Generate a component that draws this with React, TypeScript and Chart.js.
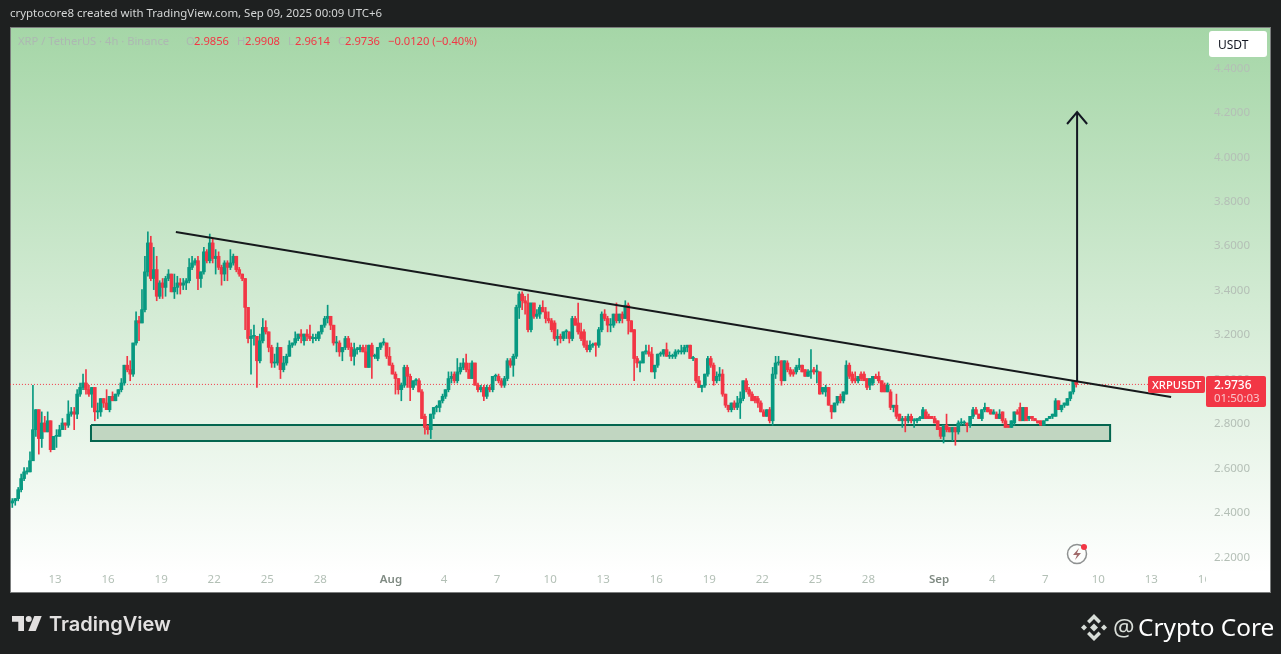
import { useEffect, useRef } from "react";
import { Chart, registerables } from "chart.js";

Chart.register(...registerables);

const UP = "#089981";
const DOWN = "#F23645";
const FONT = '"Noto Sans", sans-serif';

// 4h candles, first one is Jul 10 evening
const opens = [
  2.44,2.45,2.46,2.50,2.55,2.58,2.58,2.63,2.77,2.86,
  2.73,2.80,2.76,2.81,2.68,2.74,2.74,2.77,2.80,2.79,
  2.84,2.85,2.84,2.93,2.96,2.98,2.95,2.93,2.96,2.85,
  2.85,2.91,2.89,2.86,2.92,2.90,2.93,2.95,2.98,3.06,
  3.04,3.02,3.16,3.26,3.25,3.31,3.48,3.61,3.45,3.49,
  3.37,3.43,3.41,3.45,3.47,3.39,3.41,3.43,3.42,3.43,
  3.44,3.50,3.52,3.53,3.45,3.48,3.57,3.53,3.61,3.54,
  3.55,3.50,3.47,3.52,3.50,3.52,3.55,3.49,3.47,3.45,
  3.32,3.18,3.19,3.19,3.08,3.17,3.23,3.21,3.14,3.07,
  3.07,3.14,3.04,3.07,3.10,3.15,3.16,3.18,3.20,3.17,
  3.20,3.19,3.18,3.18,3.18,3.21,3.24,3.27,3.28,3.24,
  3.16,3.16,3.12,3.14,3.18,3.14,3.10,3.13,3.13,3.14,
  3.12,3.05,3.15,3.10,3.09,3.14,3.16,3.16,3.10,3.06,
  3.02,3.00,2.95,2.97,3.05,3.01,2.96,2.99,2.99,2.94,
  2.83,2.78,2.77,2.84,2.87,2.87,2.90,2.92,2.95,3.00,
  3.02,2.99,3.03,3.05,3.07,3.04,3.00,3.07,2.97,2.95,
  2.96,2.92,2.96,2.95,3.01,3.01,2.99,2.97,3.00,3.08,
  3.06,3.10,3.32,3.38,3.35,3.34,3.22,3.34,3.28,3.29,
  3.32,3.30,3.27,3.26,3.25,3.18,3.19,3.18,3.21,3.21,
  3.18,3.27,3.25,3.21,3.21,3.15,3.13,3.15,3.16,3.15,
  3.22,3.29,3.27,3.24,3.24,3.29,3.26,3.29,3.27,3.33,
  3.26,3.22,3.09,3.07,3.07,3.12,3.12,3.11,3.03,3.06,
  3.11,3.11,3.13,3.10,3.10,3.10,3.12,3.12,3.12,3.14,
  3.15,3.09,3.09,2.99,2.96,2.97,3.02,3.09,3.06,2.99,
  3.01,3.02,2.93,2.88,2.86,2.89,2.87,2.89,2.91,2.99,
  2.95,2.93,2.92,2.91,2.89,2.85,2.83,2.86,2.81,3.02,
  3.07,3.08,2.99,3.07,3.04,3.03,3.03,3.05,3.06,3.04,
  3.01,3.03,3.04,3.03,3.03,2.94,2.94,2.96,2.88,2.85,
  2.89,2.92,2.90,2.93,3.06,3.02,3.00,2.99,3.02,3.02,
  3.00,2.97,2.98,3.01,3.01,2.99,2.97,2.94,2.94,2.87,
  2.88,2.84,2.81,2.82,2.81,2.83,2.81,2.81,2.82,2.82,
  2.85,2.83,2.83,2.82,2.81,2.78,2.74,2.79,2.78,2.76,
  2.78,2.76,2.80,2.80,2.80,2.79,2.83,2.86,2.84,2.82,
  2.86,2.87,2.86,2.84,2.84,2.82,2.85,2.81,2.79,2.78,
  2.80,2.85,2.87,2.81,2.87,2.82,2.83,2.82,2.81,2.81,
  2.79,2.81,2.82,2.83,2.83,2.90,2.86,2.88,2.88,2.91,
  2.94,2.9856,
];
const highs = [
  2.46,2.46,2.51,2.57,2.60,2.60,2.67,2.97,2.86,2.86,
  2.85,2.83,2.85,2.81,2.74,2.77,2.79,2.82,2.80,2.90,
  2.87,2.87,2.95,2.98,3.02,3.04,2.97,2.96,2.96,2.89,
  2.91,2.91,2.95,2.92,2.94,2.93,2.95,3.00,3.06,3.10,
  3.08,3.16,3.30,3.28,3.40,3.55,3.66,3.64,3.59,3.55,
  3.44,3.45,3.46,3.49,3.47,3.47,3.46,3.45,3.45,3.45,
  3.54,3.55,3.54,3.55,3.48,3.59,3.58,3.65,3.63,3.58,
  3.57,3.51,3.53,3.53,3.58,3.56,3.55,3.50,3.47,3.45,
  3.32,3.22,3.24,3.19,3.20,3.27,3.26,3.21,3.15,3.11,
  3.16,3.14,3.10,3.11,3.17,3.16,3.21,3.20,3.22,3.20,
  3.22,3.24,3.20,3.20,3.21,3.24,3.28,3.33,3.28,3.24,
  3.19,3.17,3.14,3.19,3.19,3.16,3.16,3.14,3.15,3.15,
  3.15,3.15,3.16,3.11,3.14,3.16,3.18,3.16,3.14,3.07,
  3.03,3.00,2.98,3.06,3.06,3.02,2.99,3.00,3.00,2.95,
  2.84,2.79,2.84,2.87,2.88,2.90,2.93,2.95,3.03,3.03,
  3.03,3.09,3.07,3.09,3.11,3.07,3.08,3.07,2.98,2.97,
  2.97,2.97,2.97,3.01,3.02,3.02,3.00,3.01,3.09,3.09,
  3.11,3.33,3.39,3.39,3.37,3.38,3.34,3.34,3.31,3.33,
  3.35,3.32,3.30,3.27,3.26,3.22,3.20,3.21,3.22,3.21,
  3.28,3.28,3.34,3.25,3.22,3.17,3.17,3.16,3.16,3.23,
  3.30,3.31,3.28,3.27,3.29,3.34,3.29,3.30,3.35,3.34,
  3.26,3.22,3.10,3.08,3.12,3.15,3.15,3.14,3.06,3.11,
  3.12,3.13,3.16,3.12,3.11,3.13,3.13,3.15,3.15,3.15,
  3.15,3.10,3.09,3.01,2.97,3.02,3.10,3.10,3.07,3.03,
  3.05,3.04,2.93,2.88,2.89,2.90,2.92,2.94,2.99,3.00,
  2.96,2.94,2.92,2.92,2.90,2.86,2.86,2.87,3.05,3.10,
  3.10,3.08,3.08,3.08,3.05,3.04,3.06,3.09,3.06,3.04,
  3.04,3.13,3.05,3.06,3.03,2.96,2.97,2.96,2.88,2.89,
  2.92,2.93,2.94,3.08,3.07,3.03,3.03,3.01,3.03,3.03,
  3.00,3.00,3.01,3.02,3.03,2.99,2.98,2.98,2.95,2.88,
  2.93,2.84,2.83,2.83,2.84,2.84,2.82,2.82,2.83,2.87,
  2.86,2.84,2.83,2.83,2.81,2.78,2.79,2.84,2.78,2.78,
  2.78,2.81,2.82,2.81,2.80,2.83,2.87,2.87,2.84,2.86,
  2.89,2.87,2.86,2.86,2.85,2.86,2.85,2.82,2.79,2.81,
  2.85,2.86,2.89,2.87,2.87,2.83,2.83,2.82,2.81,2.81,
  2.81,2.82,2.83,2.84,2.91,2.90,2.88,2.89,2.91,2.94,
  2.99,2.9908,
];
const lows = [
  2.42,2.43,2.45,2.49,2.54,2.57,2.58,2.63,2.74,2.66,
  2.69,2.76,2.76,2.67,2.68,2.69,2.74,2.77,2.77,2.78,
  2.83,2.77,2.82,2.92,2.95,2.93,2.92,2.87,2.81,2.82,
  2.83,2.87,2.86,2.85,2.90,2.90,2.92,2.94,2.97,3.03,
  2.99,3.01,3.15,3.17,3.25,3.30,3.46,3.44,3.40,3.35,
  3.36,3.36,3.37,3.44,3.39,3.36,3.38,3.38,3.40,3.40,
  3.43,3.49,3.51,3.40,3.41,3.47,3.52,3.52,3.52,3.47,
  3.49,3.42,3.44,3.44,3.49,3.51,3.48,3.46,3.44,3.22,
  3.16,3.02,3.15,2.96,3.07,3.16,3.20,3.12,3.05,3.05,
  3.06,3.00,3.03,3.06,3.10,3.14,3.15,3.17,3.16,3.15,
  3.17,3.17,3.16,3.17,3.17,3.20,3.23,3.25,3.22,3.15,
  3.12,3.10,3.08,3.13,3.13,3.08,3.06,3.11,3.12,3.12,
  3.05,3.05,3.00,3.09,3.08,3.13,3.15,3.09,3.06,3.02,
  2.93,2.93,2.90,2.96,2.96,2.90,2.95,2.97,2.94,2.82,
  2.75,2.75,2.73,2.82,2.85,2.85,2.89,2.91,2.94,2.98,
  2.98,2.98,3.02,3.04,3.03,3.00,3.00,2.97,2.94,2.94,
  2.90,2.91,2.94,2.94,2.99,2.98,2.96,2.96,2.99,3.05,
  3.01,3.09,3.27,3.31,3.29,3.21,3.21,3.27,3.27,3.27,
  3.30,3.25,3.25,3.21,3.17,3.15,3.16,3.17,3.18,3.16,
  3.17,3.24,3.20,3.17,3.14,3.12,3.12,3.14,3.10,3.14,
  3.21,3.26,3.21,3.21,3.23,3.25,3.25,3.25,3.27,3.20,
  3.21,2.99,3.05,3.03,3.07,3.11,3.10,3.03,3.00,3.05,
  3.10,3.10,3.10,3.09,3.09,3.09,3.11,3.11,3.11,3.12,
  3.09,3.08,2.98,2.96,2.94,2.96,3.01,3.05,2.97,2.98,
  2.99,2.92,2.87,2.85,2.85,2.86,2.86,2.82,2.90,2.94,
  2.92,2.90,2.89,2.87,2.85,2.83,2.83,2.80,2.79,3.00,
  3.06,2.97,2.99,3.03,3.01,3.01,3.02,3.04,3.03,3.01,
  3.01,3.00,3.02,2.98,2.93,2.93,2.92,2.88,2.82,2.85,
  2.88,2.89,2.89,2.93,3.00,2.98,2.98,2.98,2.99,2.99,
  2.95,2.95,2.97,3.00,2.98,2.94,2.94,2.94,2.86,2.85,
  2.82,2.81,2.78,2.76,2.80,2.80,2.78,2.80,2.81,2.82,
  2.82,2.82,2.82,2.80,2.77,2.73,2.71,2.76,2.76,2.72,
  2.70,2.75,2.79,2.79,2.76,2.78,2.82,2.84,2.82,2.81,
  2.85,2.85,2.84,2.84,2.82,2.82,2.80,2.78,2.78,2.78,
  2.79,2.84,2.81,2.81,2.81,2.81,2.81,2.81,2.80,2.79,
  2.79,2.81,2.82,2.82,2.83,2.86,2.85,2.87,2.88,2.90,
  2.93,2.9614,
];
const closes = [
  2.45,2.46,2.50,2.55,2.58,2.58,2.63,2.77,2.86,2.73,
  2.80,2.76,2.81,2.68,2.74,2.74,2.77,2.80,2.79,2.84,
  2.85,2.84,2.93,2.96,2.98,2.95,2.93,2.96,2.85,2.85,
  2.91,2.89,2.86,2.92,2.90,2.93,2.95,2.98,3.06,3.04,
  3.02,3.16,3.26,3.25,3.31,3.48,3.61,3.45,3.49,3.37,
  3.43,3.41,3.45,3.47,3.39,3.41,3.43,3.42,3.43,3.44,
  3.50,3.52,3.53,3.45,3.48,3.57,3.53,3.61,3.54,3.55,
  3.50,3.47,3.52,3.50,3.52,3.55,3.49,3.47,3.45,3.32,
  3.18,3.19,3.19,3.08,3.17,3.23,3.21,3.14,3.07,3.07,
  3.14,3.04,3.07,3.10,3.15,3.16,3.18,3.20,3.19,3.20,
  3.19,3.18,3.18,3.18,3.21,3.24,3.27,3.28,3.24,3.16,
  3.16,3.12,3.14,3.18,3.14,3.10,3.13,3.13,3.14,3.12,
  3.05,3.15,3.10,3.10,3.14,3.16,3.16,3.10,3.06,3.02,
  3.00,2.95,2.97,3.05,3.01,2.96,2.99,2.99,2.94,2.82,
  2.78,2.77,2.84,2.87,2.87,2.90,2.92,2.95,3.00,3.01,
  2.99,3.03,3.05,3.07,3.04,3.00,3.07,2.97,2.95,2.96,
  2.92,2.96,2.95,3.01,3.01,2.99,2.97,3.00,3.08,3.06,
  3.10,3.32,3.38,3.35,3.34,3.22,3.34,3.28,3.29,3.32,
  3.30,3.27,3.26,3.22,3.18,3.19,3.18,3.21,3.21,3.18,
  3.27,3.24,3.21,3.18,3.15,3.13,3.15,3.15,3.15,3.22,
  3.29,3.27,3.24,3.24,3.29,3.26,3.29,3.27,3.33,3.26,
  3.21,3.09,3.07,3.07,3.12,3.12,3.11,3.03,3.06,3.11,
  3.11,3.13,3.10,3.10,3.10,3.12,3.12,3.12,3.14,3.15,
  3.09,3.09,2.99,2.96,2.97,3.02,3.09,3.06,2.99,3.01,
  3.02,2.93,2.88,2.86,2.89,2.87,2.89,2.91,2.99,2.95,
  2.93,2.90,2.90,2.89,2.85,2.83,2.86,2.81,3.02,3.07,
  3.07,2.99,3.08,3.04,3.02,3.02,3.05,3.06,3.03,3.01,
  3.03,3.03,3.03,3.03,2.93,2.96,2.96,2.88,2.85,2.89,
  2.92,2.90,2.94,3.06,3.01,2.99,2.99,3.01,3.00,2.99,
  2.96,3.00,3.01,3.00,2.99,2.94,2.94,2.97,2.87,2.88,
  2.83,2.81,2.82,2.81,2.83,2.81,2.81,2.82,2.82,2.86,
  2.82,2.82,2.82,2.80,2.77,2.74,2.79,2.77,2.76,2.78,
  2.76,2.80,2.80,2.80,2.79,2.83,2.86,2.84,2.82,2.86,
  2.87,2.85,2.84,2.85,2.82,2.84,2.81,2.78,2.78,2.81,
  2.85,2.84,2.81,2.87,2.81,2.83,2.82,2.81,2.80,2.79,
  2.81,2.82,2.83,2.84,2.90,2.86,2.88,2.89,2.91,2.94,
  2.99,2.9736,
];

const priceTicks = [2.2, 2.4, 2.6, 2.8, 3.0, 3.2, 3.4, 3.6, 3.8, 4.0, 4.2, 4.4];
const dateTickPositions = [14.5, 32.5, 50.5, 68.5, 86.5, 104.5, 128.5, 146.5, 164.5, 182.5, 200.5, 218.5, 236.5, 254.5, 272.5, 290.5, 314.5, 332.5, 350.5, 368.5, 386.5, 404.5];
const dateTickLabels = ["13", "16", "19", "22", "25", "28", "Aug", "4", "7", "10", "13", "16", "19", "22", "25", "28", "Sep", "4", "7", "10", "13", "16"];

// drawings on the chart, in candle index / price
const trendLine = [{ x: 55.5, y: 3.659 }, { x: 393.2, y: 2.917 }];
const arrowShaft = [{ x: 361.3, y: 2.984 }, { x: 361.3, y: 4.199 }];
const arrowHead = [{ x: 357.9, y: 4.145 }, { x: 361.3, y: 4.199 }, { x: 364.7, y: 4.145 }];
const zone = [{ x: 26.7, y: 2.791 }, { x: 372.5, y: 2.791 }, { x: 372.5, y: 2.719 }, { x: 26.7, y: 2.719 }, { x: 26.7, y: 2.791 }];
const priceLine = [{ x: -0.8, y: 2.9736 }, { x: 386, y: 2.9736 }];

const text = (ctx: CanvasRenderingContext2D, s: string, x: number, y: number, font: string, color: string) => {
  ctx.font = font;
  ctx.fillStyle = color;
  ctx.textAlign = "left";
  ctx.textBaseline = "alphabetic";
  ctx.fillText(s, x, y);
};

const poly = (ctx: CanvasRenderingContext2D, pts: number[][]) => {
  ctx.beginPath();
  pts.forEach(([x, y], i) => (i ? ctx.lineTo(x, y) : ctx.moveTo(x, y)));
  ctx.closePath();
  ctx.fill();
};

const backdrop = {
  id: "backdrop",
  beforeDraw(chart: Chart) {
    const ctx = chart.ctx;
    ctx.save();
    ctx.fillStyle = "#1e2020";
    ctx.fillRect(0, 0, 1281, 654);
    const g = ctx.createLinearGradient(0, 27, 0, 575);
    g.addColorStop(0, "#a5d6a7");
    g.addColorStop(1, "#ffffff");
    ctx.fillStyle = g;
    ctx.fillRect(10, 27, 1261, 566);
    ctx.strokeStyle = "#7b7d7d";
    ctx.lineWidth = 1;
    ctx.strokeRect(10.5, 27.5, 1260, 565);
    ctx.restore();
  },
};

const furniture = {
  id: "furniture",
  afterDraw(chart: Chart) {
    const ctx = chart.ctx;
    ctx.save();
    // clip the last date label at the price axis
    ctx.fillStyle = "#ffffff";
    ctx.fillRect(1206, 571, 64, 21);

    text(ctx, "cryptocore8 created with TradingView.com, Sep 09, 2025 00:09 UTC+6", 10, 17, `11.45px ${FONT}`, "#d4d6d6");

    const pale = "#adb8b2";
    text(ctx, "XRP / TetherUS · 4h · Binance", 18, 45, `11.2px ${FONT}`, pale);
    const legend: [string, number, string][] = [
      ["O", 186, pale], ["2.9856", 194, DOWN], ["H", 237, pale], ["2.9908", 245, DOWN],
      ["L", 288, pale], ["2.9614", 295, DOWN], ["C", 338, pale], ["2.9736", 345, DOWN],
      ["−0.0120 (−0.40%)", 388, DOWN],
    ];
    legend.forEach(([s, x, c]) => text(ctx, s, x, 45, `11.2px ${FONT}`, c));

    ctx.fillStyle = "#ffffff";
    ctx.beginPath();
    ctx.roundRect(1209, 31, 58, 26, 3);
    ctx.fill();
    text(ctx, "USDT", 1218, 49, `12px ${FONT}`, "#131722");

    // last price labels
    const y = chart.scales.y.getPixelForValue(closes[closes.length - 1]);
    ctx.fillStyle = DOWN;
    ctx.beginPath();
    ctx.roundRect(1148, y - 8.5, 57, 17, 2);
    ctx.fill();
    ctx.beginPath();
    ctx.roundRect(1206, y - 8.5, 60, 31, 2);
    ctx.fill();
    text(ctx, "XRPUSDT", 1152, y + 4.5, `500 11.2px ${FONT}`, "#ffffff");
    text(ctx, "2.9736", 1214, y + 4.5, `500 12px ${FONT}`, "#ffffff");
    text(ctx, "01:50:03", 1214, y + 18, `11.5px ${FONT}`, "#f9c5cb");

    // bolt icon
    ctx.strokeStyle = "#8e9191";
    ctx.lineWidth = 1.5;
    ctx.beginPath();
    ctx.arc(1077, 554, 9.5, 0, Math.PI * 2);
    ctx.stroke();
    ctx.fillStyle = "#a06a6a";
    poly(ctx, [[1079, 548], [1073, 555], [1077, 555], [1075, 560], [1081, 553], [1077, 553]]);
    ctx.fillStyle = DOWN;
    ctx.beginPath();
    ctx.arc(1084, 547, 3, 0, Math.PI * 2);
    ctx.fill();

    // footer left
    ctx.fillStyle = "#e2e0e0";
    poly(ctx, [[12, 616], [24, 616], [24, 631], [18.3, 631], [18.3, 621.7], [12, 621.7]]);
    poly(ctx, [[41.7, 616], [35.7, 631], [28.3, 631], [34.3, 616]]);
    ctx.beginPath();
    ctx.arc(28.7, 619, 3, 0, Math.PI * 2);
    ctx.fill();
    text(ctx, "TradingView", 49, 631, `600 20px Inter, ${FONT}`, "#e2e0e0");

    // footer right
    ctx.fillStyle = "#d8ddd8";
    const d = (cx: number, cy: number, r: number) => poly(ctx, [[cx, cy - r], [cx + r, cy], [cx, cy + r], [cx - r, cy]]);
    d(1094, 627.5, 4);
    d(1084, 627.5, 3);
    d(1104, 627.5, 3);
    poly(ctx, [[1094, 614], [1101, 621], [1098.5, 623.5], [1094, 619], [1089.5, 623.5], [1087, 621]]);
    poly(ctx, [[1094, 641], [1101, 634], [1098.5, 631.5], [1094, 636], [1089.5, 631.5], [1087, 634]]);
    text(ctx, "@", 1113, 636, `24px ${FONT}`, "#d8ddd8");
    text(ctx, "Crypto Core", 1138, 636, `24.4px ${FONT}`, "#ffffff");
    ctx.restore();
  },
};

export default function App() {
  const chartRef = useRef<HTMLCanvasElement | null>(null);

  useEffect(() => {
    if (!chartRef.current) return;
    document.body.style.margin = "0";
    document.body.style.background = "#1e2020";
    const colors = opens.map((o, i) => (closes[i] >= o ? UP : DOWN));
    const line = { type: "line", pointRadius: 0, tension: 0, fill: false };
    const chart = new Chart(chartRef.current, {
      type: "bar",
      data: {
        datasets: [
          { ...line, data: arrowHead, borderColor: "#131722", borderWidth: 2, order: 0 },
          { ...line, data: arrowShaft, borderColor: "#131722", borderWidth: 2, order: 0 },
          { ...line, data: trendLine, borderColor: "#16191c", borderWidth: 2, order: 1 },
          {
            data: opens.map((o, i) => ({ x: i, y: [o, closes[i]] })),
            backgroundColor: colors,
            barThickness: 3,
            minBarLength: 1,
            order: 3,
          },
          {
            data: lows.map((l, i) => ({ x: i, y: [l, highs[i]] })),
            backgroundColor: colors,
            barThickness: 1,
            order: 4,
          },
          { ...line, data: priceLine, borderColor: DOWN, borderWidth: 1, borderDash: [1, 2], order: 5 },
          { ...line, data: zone, borderColor: "#04664f", borderWidth: 2, backgroundColor: "#c1d6c1", fill: "shape", order: 6 },
        ] as any,
      },
      options: {
        animation: false,
        responsive: false,
        devicePixelRatio: 1,
        layout: { padding: { left: 10, top: 27, right: 10, bottom: 61 } },
        plugins: { legend: { display: false }, tooltip: { enabled: false } },
        datasets: { bar: { grouped: false } },
        scales: {
          x: {
            type: "linear",
            offset: false,
            min: -0.78,
            max: 404.7,
            grid: { display: false, drawTicks: false },
            border: { display: false },
            afterBuildTicks: (s: any) => {
              s.ticks = dateTickPositions.map((value) => ({ value }));
            },
            afterFit: (s: any) => {
              s.height = 23;
            },
            ticks: {
              autoSkip: false,
              maxRotation: 0,
              padding: 3,
              color: (c: any) => (c.index === 6 || c.index === 16 ? "#7f8a82" : "#b3c0b6"),
              font: (c: any) => ({ family: FONT, size: 11.5, weight: c.index === 6 || c.index === 16 ? 600 : 400 }),
              callback: (_v: any, i: number) => dateTickLabels[i],
            },
          },
          y: {
            type: "linear",
            position: "right",
            min: 2.1387,
            max: 4.5814,
            grid: { display: false, drawTicks: false },
            border: { display: false },
            afterBuildTicks: (s: any) => {
              s.ticks = priceTicks.map((value) => ({ value }));
            },
            afterFit: (s: any) => {
              s.width = 66;
            },
            ticks: {
              autoSkip: false,
              padding: 9,
              labelOffset: 1,
              color: "#b4bfb6",
              font: { family: FONT, size: 11.5 },
              callback: (v: any) => Number(v).toFixed(4),
            },
          },
        },
      } as any,
      plugins: [backdrop, furniture],
    });
    return () => chart.destroy();
  }, []);

  return <canvas ref={chartRef} width={1281} height={654} style={{ display: "block" }} />;
}
